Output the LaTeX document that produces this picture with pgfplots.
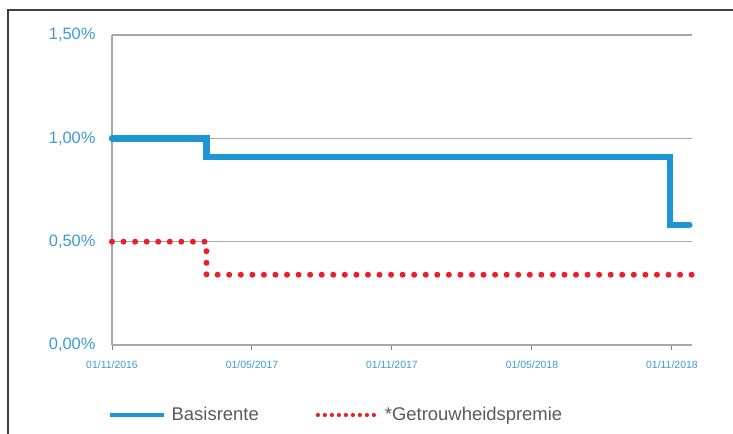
\documentclass[border=0pt]{standalone}
\usepackage{fontspec}
\setmainfont{Liberation Sans}
\usepackage{pgfplots}
\pgfplotsset{compat=1.18}
\definecolor{blu}{HTML}{1E96D3}
\definecolor{dotred}{HTML}{E8202A}
\definecolor{tickblue}{HTML}{3C9BD7}
\definecolor{leggray}{HTML}{5A5A5A}
\definecolor{gridgray}{HTML}{A8A8A8}
\begin{document}
\begin{tikzpicture}
\path[use as bounding box] (0,0) rectangle (733bp,-434bp);
\draw[color=black!75, line width=1.6bp] (8bp,-434bp) -- (8bp,-10bp) -- (733bp,-10bp);
\begin{axis}[
  at={(112bp,-345bp)}, anchor=south west,
  scale only axis, width=580bp, height=310bp,
  xmin=0, xmax=24.86, ymin=0, ymax=1.5,
  clip=false,
  axis x line*=bottom, axis y line*=left,
  axis line style={draw=gridgray, line width=1.3bp, -},
  xtick={0,6,12,18,24},
  xticklabels={01/11/2016,01/05/2017,01/11/2017,01/05/2018,01/11/2018},
  ytick={0,0.5,1,1.5},
  yticklabels={{0,00\%},{0,50\%},{1,00\%},{1,50\%}},
  ymajorgrids, grid style={draw=gridgray, line width=1.3bp},
  tick align=outside, major tick length=5bp,
  xtick style={draw=gray, line width=1bp},
  ytick style={draw=none},
  xticklabel style={font=\fontsize{10.5}{12}\selectfont, text=tickblue, yshift=-7bp},
  yticklabel style={font=\fontsize{16.5}{19}\selectfont, text=tickblue, xshift=-8bp},
  legend style={at={(-0.0069,-0.2258)}, anchor=west, draw=none, fill=none,
    inner sep=0pt, legend columns=2,
    font=\fontsize{18.5}{22}\selectfont, text=leggray,
    /tikz/every even column/.append style={column sep=55bp}},
]
\addplot[blu, line width=6.5bp, line cap=round, line join=miter,
  legend image code/.code={\draw[blu, line width=4.5bp, solid, line cap=butt] (0bp,0bp) -- (54bp,0bp);}]
  coordinates {(0,1.0) (4.05,1.0) (4.05,0.91) (23.91,0.91) (23.91,0.58) (24.75,0.58)};
\addlegendentry{\hspace{3bp}Basisrente}
\addplot[dotred, line width=6bp, line cap=round, dash pattern=on 0bp off 11.56bp,
  legend image code/.code={\draw[dotred, line width=4.2bp, line cap=round, dash pattern=on 0bp off 7bp] (2bp,0bp) -- (58bp,0bp);}]
  coordinates {(0,0.5) (4.05,0.5) (4.05,0.34) (24.86,0.34)};
\addlegendentry{\hspace{7bp}*Getrouwheidspremie}
\end{axis}
\end{tikzpicture}
\end{document}
